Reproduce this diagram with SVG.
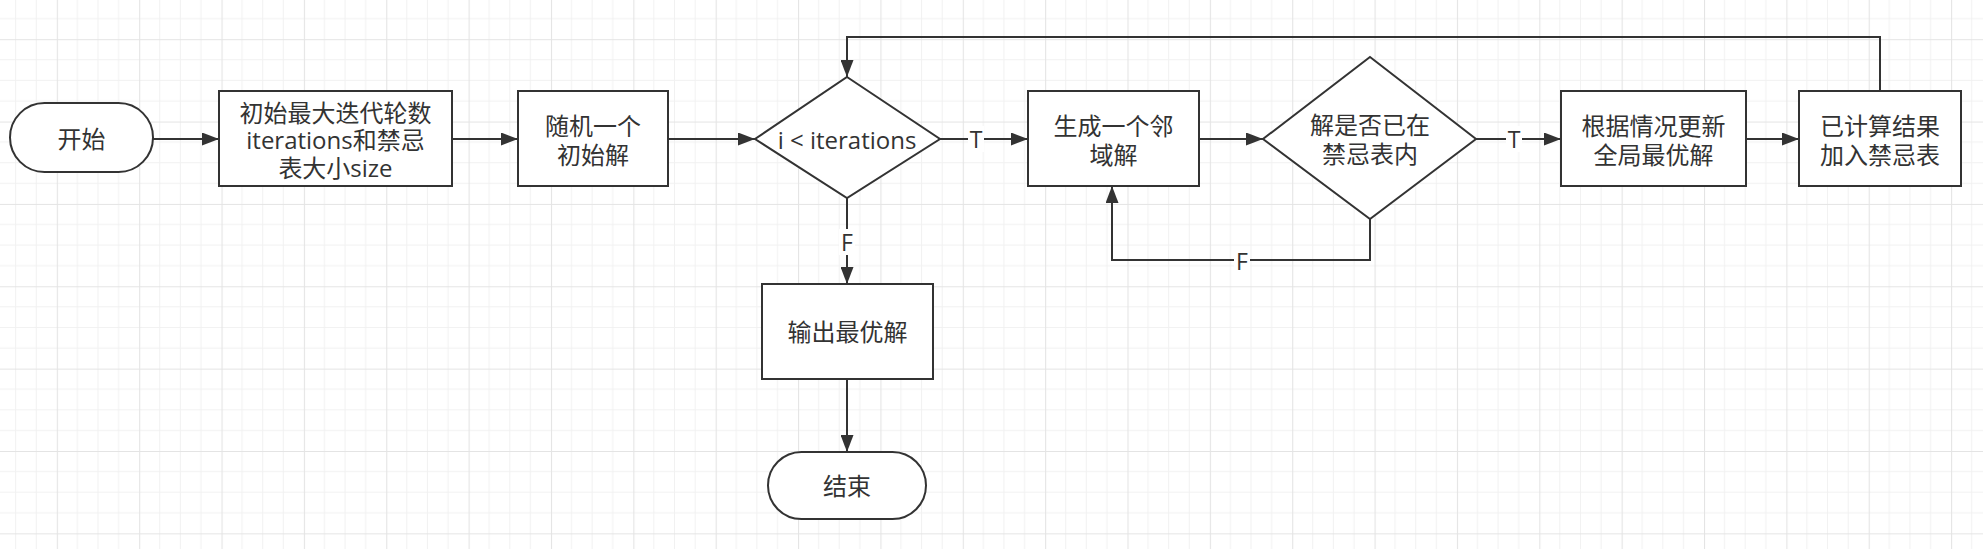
<svg xmlns="http://www.w3.org/2000/svg" width="1983" height="549" viewBox="0 0 1983 549">
<defs>
<pattern id="grid" patternUnits="userSpaceOnUse" x="56.8" y="39.2" width="82.36" height="82.36">
<path d="M20.59 0V82.36M41.18 0V82.36M61.77 0V82.36M0 20.59H82.36M0 41.18H82.36M0 61.77H82.36" stroke="#f1f1f1" stroke-width="1" fill="none"/>
<path d="M0.5 0V82.36M0 0.5H82.36" stroke="#e4e4e4" stroke-width="1.2" fill="none"/>
</pattern>
<marker id="arr" markerUnits="userSpaceOnUse" markerWidth="18" markerHeight="13" refX="17" refY="6.5" orient="auto">
<path d="M0,0 L17,6.5 L0,13 z" fill="#333333"/>
</marker>
</defs>
<style>
.shape{fill:#ffffff;stroke:#333333;stroke-width:2}
.edge{fill:none;stroke:#333333;stroke-width:2}
.t{font-family:"Open Sans","Noto Sans CJK SC",sans-serif;font-size:24px;fill:#333333;text-anchor:middle;dominant-baseline:central}
.lbl{font-family:"Open Sans","Noto Sans CJK SC",sans-serif;font-size:23px;fill:#333333;text-anchor:middle;dominant-baseline:central}
.lblbg{fill:#ffffff}
</style>
<rect width="1983" height="549" fill="#ffffff"/>
<rect width="1983" height="549" fill="url(#grid)"/>

<g id="connectors">
<path class="edge" d="M153,139 H219" marker-end="url(#arr)"/>
<path class="edge" d="M452,139 H518" marker-end="url(#arr)"/>
<path class="edge" d="M668,139 H755" marker-end="url(#arr)"/>
<path class="edge" d="M940,139 H1028" marker-end="url(#arr)"/>
<path class="edge" d="M1199,139 H1263" marker-end="url(#arr)"/>
<path class="edge" d="M1476,139 H1561" marker-end="url(#arr)"/>
<path class="edge" d="M1746,139 H1799" marker-end="url(#arr)"/>
<path class="edge" d="M1880,91 V37 H847 V77" marker-end="url(#arr)"/>
<path class="edge" d="M847,198 V284" marker-end="url(#arr)"/>
<path class="edge" d="M847,379 V452" marker-end="url(#arr)"/>
<path class="edge" d="M1370,219 V260 H1112 V186" marker-end="url(#arr)"/>
<g id="edge-labels">
<rect class="lblbg" x="968" y="126" width="16" height="26"/>
<text class="lbl" x="976" y="139">T</text>
<rect class="lblbg" x="1506" y="126" width="16" height="26"/>
<text class="lbl" x="1514" y="139">T</text>
<rect class="lblbg" x="839" y="229" width="16" height="26"/>
<text class="lbl" x="847" y="242">F</text>
<rect class="lblbg" x="1234" y="247" width="16" height="26"/>
<text class="lbl" x="1242" y="261">F</text>
</g>
</g>

<g id="start">
<rect class="shape" x="10" y="103" width="143" height="69" rx="34.5" ry="34.5"/>
<text class="t" x="81.5" y="138">开始</text>
</g>
<g id="init">
<rect class="shape" x="219" y="91" width="233" height="95"/>
<text class="t" x="335.5" y="112">初始最大迭代轮数</text>
<text class="t" x="335.5" y="139.5">iterations和禁忌</text>
<text class="t" x="335.5" y="167">表大小size</text>
</g>
<g id="random">
<rect class="shape" x="518" y="91" width="150" height="95"/>
<text class="t" x="593" y="125">随机一个</text>
<text class="t" x="593" y="154">初始解</text>
</g>
<g id="cond1">
<polygon class="shape" points="847,77 940,139 847,198 755,139"/>
<text class="t" x="847" y="139">i &lt; iterations</text>
</g>
<g id="neighbor">
<rect class="shape" x="1028" y="91" width="171" height="95"/>
<text class="t" x="1113.5" y="125">生成一个邻</text>
<text class="t" x="1113.5" y="154">域解</text>
</g>
<g id="cond2">
<polygon class="shape" points="1370,57 1476,139 1370,219 1263,139"/>
<text class="t" x="1370" y="124">解是否已在</text>
<text class="t" x="1370" y="153">禁忌表内</text>
</g>
<g id="update">
<rect class="shape" x="1561" y="91" width="185" height="95"/>
<text class="t" x="1653.5" y="125">根据情况更新</text>
<text class="t" x="1653.5" y="154">全局最优解</text>
</g>
<g id="addtabu">
<rect class="shape" x="1799" y="91" width="162" height="95"/>
<text class="t" x="1880" y="125">已计算结果</text>
<text class="t" x="1880" y="154">加入禁忌表</text>
</g>
<g id="output">
<rect class="shape" x="762" y="284" width="171" height="95"/>
<text class="t" x="847.5" y="331.5">输出最优解</text>
</g>
<g id="end">
<rect class="shape" x="768" y="452" width="158" height="67" rx="33.5" ry="33.5"/>
<text class="t" x="847" y="485.5">结束</text>
</g>
</svg>
